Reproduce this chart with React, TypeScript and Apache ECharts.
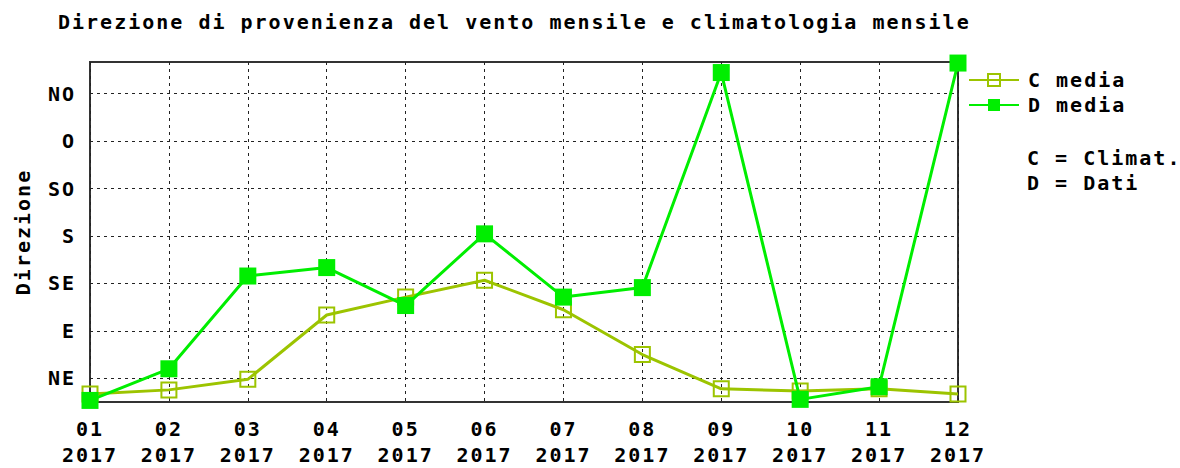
import React, { useEffect, useRef } from "react";
import * as echarts from "echarts";

const months = ["01", "02", "03", "04", "05", "06", "07", "08", "09", "10", "11", "12"];
const year = "2017";
const climValues = [30, 34, 44, 105, 122, 138, 110, 67.5, 35, 33, 35, 30];
const dataValues = [24, 54, 142, 150, 114, 182, 122, 131, 335, 25, 37, 344];
const dirTicks = [45, 90, 135, 180, 225, 270, 315];
const dirLabels: Record<number, string> = { 45: "NE", 90: "E", 135: "SE", 180: "S", 225: "SO", 270: "O", 315: "NO" };

const FONT = "'DejaVu Sans Mono', 'Liberation Mono', monospace";
const C_COLOR = "#9cc400";
const D_COLOR = "#00ee00";

export default function App() {
  const ref = useRef<HTMLDivElement>(null);
  useEffect(() => {
    document.body.style.margin = "0";
    const chart = echarts.init(ref.current!, null, { renderer: "svg" });
    const txt = { fontFamily: FONT, fontSize: 20, fontWeight: "bold" as const, color: "#000" };
    chart.setOption({
      animation: false,
      backgroundColor: "#fff",
      title: {
        text: "Direzione di provenienza del vento mensile e climatologia mensile",
        left: 58,
        top: 12,
        padding: 0,
        textStyle: { ...txt },
      },
      legend: {
        orient: "vertical",
        left: 968,
        top: 70,
        padding: 0,
        itemWidth: 50,
        itemHeight: 15,
        itemGap: 5,
        textStyle: { ...txt, padding: [0, 0, 0, 4] },
        data: ["C media", "D media"],
      },
      graphic: [
        { type: "text", left: 1027, top: 148, style: { text: "C = Climat.", font: `bold 20px ${FONT}`, fill: "#000" } },
        { type: "text", left: 1027, top: 173, style: { text: "D = Dati", font: `bold 20px ${FONT}`, fill: "#000" } },
      ],
      grid: {
        left: 90,
        right: 222,
        top: 62,
        bottom: 63,
        show: true,
        borderColor: "#333",
        borderWidth: 2,
        backgroundColor: "transparent",
      },
      xAxis: {
        type: "category",
        boundaryGap: false,
        data: months.map((m) => `${m}\n${year}`),
        axisLine: { show: false },
        axisTick: { show: false },
        axisLabel: { ...txt, lineHeight: 26, margin: 14, interval: 0 },
        splitLine: { show: true, lineStyle: { color: "#222", type: [3, 4], width: 1 } },
      },
      yAxis: {
        type: "value",
        min: 22.5,
        max: 345,
        name: "Direzione",
        nameLocation: "middle",
        nameRotate: 90,
        nameGap: 57,
        nameTextStyle: { ...txt },
        axisLine: { show: false },
        axisTick: { show: false, customValues: dirTicks },
        axisLabel: {
          ...txt,
          margin: 14,
          customValues: dirTicks,
          formatter: (v: number) => dirLabels[v] ?? "",
        },
        splitLine: { show: true, lineStyle: { color: "#222", type: [3, 4], width: 1 } },
      },
      series: [
        {
          name: "C media",
          type: "line",
          data: climValues,
          symbol: "rect",
          symbolSize: 15,
          color: C_COLOR,
          lineStyle: { color: C_COLOR, width: 3 },
          itemStyle: { color: "rgba(255,255,255,0)", borderColor: C_COLOR, borderWidth: 2 },
          z: 2,
        },
        {
          name: "D media",
          type: "line",
          data: dataValues,
          symbol: "rect",
          symbolSize: 17,
          color: D_COLOR,
          lineStyle: { color: D_COLOR, width: 3 },
          itemStyle: { color: D_COLOR },
          z: 3,
        },
      ],
    });
    return () => chart.dispose();
  }, []);
  return <div ref={ref} style={{ width: 1180, height: 468, letterSpacing: "2px" }} />;
}
